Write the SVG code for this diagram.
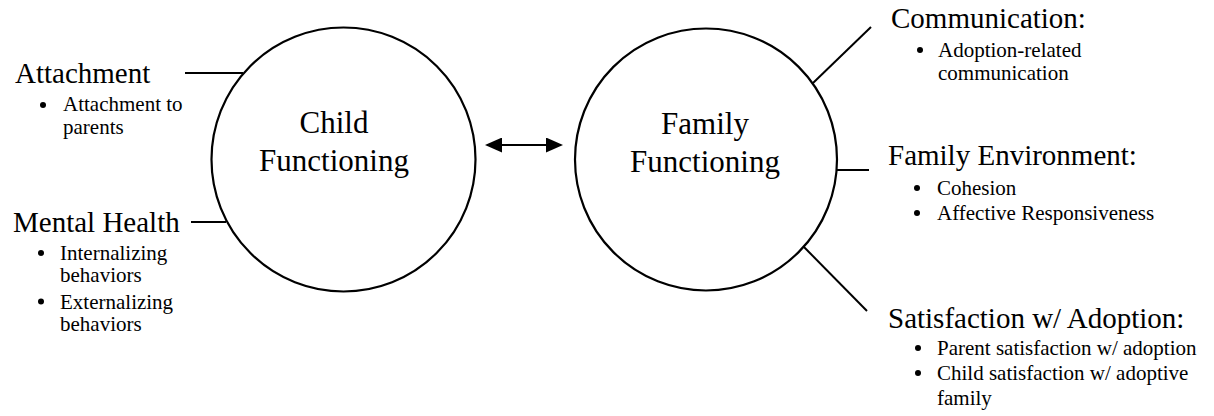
<svg xmlns="http://www.w3.org/2000/svg" width="1214" height="416" viewBox="0 0 1214 416">
<style>
text{font-family:"Liberation Serif","Times New Roman",serif;fill:#000}
.h{font-size:29px}
.c{font-size:31px;text-anchor:middle}
.s{font-size:21px}
.node{fill:#fff;stroke:#000;stroke-width:2.2}
.ln{stroke:#000;stroke-width:2;fill:none}
.b{fill:#000}
</style>
<defs>
<marker id="ah" viewBox="0 0 17 15" refX="15" refY="7.5" markerWidth="17" markerHeight="15" markerUnits="userSpaceOnUse" orient="auto-start-reverse">
<path d="M0,0 L17,7.5 L0,15 z" fill="#000"/>
</marker>
</defs>
<rect width="1214" height="416" fill="#fff"/>
<g id="connectors">
<line class="ln" x1="185" y1="73" x2="243" y2="73"/>
<line class="ln" x1="191" y1="222" x2="226" y2="222"/>
<line class="ln" x1="813" y1="83" x2="871" y2="27"/>
<line class="ln" x1="835" y1="170" x2="869" y2="170"/>
<line class="ln" x1="802" y1="245" x2="867" y2="311"/>
<line class="ln" x1="487" y1="145" x2="561" y2="145" stroke-width="2.5" marker-start="url(#ah)" marker-end="url(#ah)"/>
</g>
<g id="child">
<circle class="node" cx="343.5" cy="159.5" r="132"/>
<text class="c" x="334" y="133">Child<tspan x="334" dy="38">Functioning</tspan></text>
</g>
<g id="family">
<circle class="node" cx="706" cy="159.5" r="131"/>
<text class="c" x="705" y="133.5">Family<tspan x="705" dy="38">Functioning</tspan></text>
</g>
<g id="attachment">
<text class="h" x="15" y="83">Attachment</text>
<circle class="b" cx="43" cy="105" r="3"/>
<text class="s" x="63" y="111">Attachment to<tspan x="63" dy="22.5">parents</tspan></text>
</g>
<g id="mental-health">
<text class="h" x="13" y="231.5">Mental Health</text>
<circle class="b" cx="41" cy="253" r="3"/>
<text class="s" x="60" y="259.5">Internalizing<tspan x="60" dy="22.5">behaviors</tspan></text>
<circle class="b" cx="41" cy="301.5" r="3"/>
<text class="s" x="60" y="308.5">Externalizing<tspan x="60" dy="22.5">behaviors</tspan></text>
</g>
<g id="communication">
<text class="h" x="891" y="28">Communication:</text>
<circle class="b" cx="920" cy="50" r="3"/>
<text class="s" x="938" y="56.5">Adoption-related<tspan x="938" dy="23.5">communication</tspan></text>
</g>
<g id="family-environment">
<text class="h" x="888" y="165">Family Environment:</text>
<circle class="b" cx="917" cy="188" r="3"/>
<text class="s" x="937" y="195">Cohesion</text>
<circle class="b" cx="917" cy="213" r="3"/>
<text class="s" x="937" y="220">Affective Responsiveness</text>
</g>
<g id="satisfaction">
<text class="h" x="888" y="328">Satisfaction w/ Adoption:</text>
<circle class="b" cx="918" cy="348" r="3"/>
<text class="s" x="937" y="355">Parent satisfaction w/ adoption</text>
<circle class="b" cx="918" cy="373" r="3"/>
<text class="s" x="937" y="380">Child satisfaction w/ adoptive<tspan x="937" dy="25">family</tspan></text>
</g>
</svg>
